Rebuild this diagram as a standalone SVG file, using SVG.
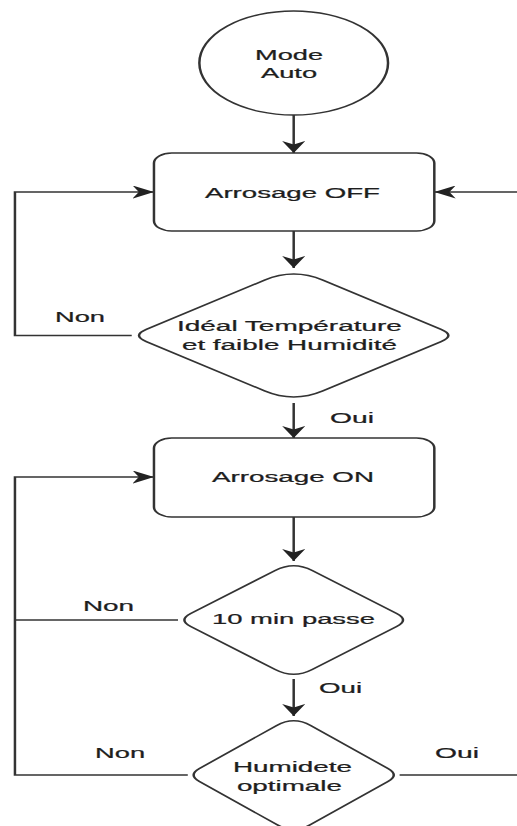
<svg xmlns="http://www.w3.org/2000/svg" width="517" height="826" viewBox="0 0 517 826">
  <defs>
    <style>
      .shape { fill: #ffffff; stroke: #333333; stroke-width: 1.4; }
      .edge { fill: none; stroke: #333333; stroke-width: 1.4; }
      .lbl { font-family: "Liberation Sans", Arial, Helvetica, sans-serif; font-size: 15.5px; fill: #1e1e1e; stroke: #1e1e1e; stroke-width: 0.25; }
      .mid { text-anchor: middle; }
    </style>
    <marker id="arrow" viewBox="0 0 12 13" refX="12" refY="6.5" markerWidth="12" markerHeight="13" markerUnits="userSpaceOnUse" orient="auto">
      <path d="M0 0 L12 6.5 L0 13 L3.5 6.5 Z" fill="#222222"/>
    </marker>
  </defs>
  <rect width="517" height="826" fill="#ffffff"/>

  <!-- the whole flowchart is drawn in a frame stretched horizontally -->
  <g transform="scale(1.78 1)">
    <g id="connectors">
      <path class="edge" d="M165 115 V153" marker-end="url(#arrow)"/>
      <path class="edge" d="M165 231 V268" marker-end="url(#arrow)"/>
      <path class="edge" d="M74 335.5 H8.4 V192 H86.5" marker-end="url(#arrow)"/>
      <path class="edge" d="M165 403 V438" marker-end="url(#arrow)"/>
      <path class="edge" d="M165 517 V561" marker-end="url(#arrow)"/>
      <path class="edge" d="M100 620 H8.4"/>
      <path class="edge" d="M105.5 775 H8.4 V477 H86.5" marker-end="url(#arrow)"/>
      <path class="edge" d="M165 679 V716" marker-end="url(#arrow)"/>
      <path class="edge" d="M224.5 775 H292 V192 H244" marker-end="url(#arrow)"/>
      <text class="lbl" x="30.9" y="322" textLength="28.1" lengthAdjust="spacingAndGlyphs">Non</text>
      <text class="lbl" x="185.4" y="423" textLength="24.7" lengthAdjust="spacingAndGlyphs">Oui</text>
      <text class="lbl" x="46.6" y="611" textLength="28.7" lengthAdjust="spacingAndGlyphs">Non</text>
      <text class="lbl" x="179.2" y="693" textLength="24.2" lengthAdjust="spacingAndGlyphs">Oui</text>
      <text class="lbl" x="53.4" y="758" textLength="28.1" lengthAdjust="spacingAndGlyphs">Non</text>
      <text class="lbl" x="244.4" y="758" textLength="24.7" lengthAdjust="spacingAndGlyphs">Oui</text>
    </g>

    <g id="mode-auto">
      <ellipse class="shape" cx="165" cy="63" rx="53" ry="52"/>
      <text class="lbl mid" x="162.4" y="60" textLength="38.2" lengthAdjust="spacingAndGlyphs">Mode</text>
      <text class="lbl mid" x="162.4" y="78" textLength="31.5" lengthAdjust="spacingAndGlyphs">Auto</text>
    </g>

    <g id="arrosage-off">
      <rect class="shape" x="86.5" y="153" width="157.5" height="78" rx="10" ry="10"/>
      <text class="lbl mid" x="164.3" y="198" textLength="98.3" lengthAdjust="spacingAndGlyphs">Arrosage OFF</text>
    </g>

    <g id="ideal-temperature">
      <path class="shape" d="M148.62 280.15 Q165 268 181.38 280.15 L247.81 329.43 Q256 335.5 247.81 341.58 L181.38 390.85 Q165 403 148.62 390.85 L82.19 341.58 Q74 335.5 82.19 329.43 Z"/>
      <text class="lbl mid" x="162.6" y="331" textLength="126.4" lengthAdjust="spacingAndGlyphs">Idéal Température</text>
      <text class="lbl mid" x="162.6" y="350" textLength="120.8" lengthAdjust="spacingAndGlyphs">et faible Humidité</text>
    </g>

    <g id="arrosage-on">
      <rect class="shape" x="86.5" y="438" width="157.5" height="79" rx="10" ry="10"/>
      <text class="lbl mid" x="164.6" y="482" textLength="91" lengthAdjust="spacingAndGlyphs">Arrosage ON</text>
    </g>

    <g id="dix-min">
      <path class="shape" d="M154.6 570.44 Q165 561 175.4 570.44 L222.85 613.51 Q230 620 222.85 626.49 L175.4 669.56 Q165 679 154.6 669.56 L107.15 626.49 Q100 620 107.15 613.51 Z"/>
      <text class="lbl mid" x="164.9" y="624" textLength="91.6" lengthAdjust="spacingAndGlyphs">10 min passe</text>
    </g>

    <g id="humidite-optimale">
      <path class="shape" d="M155.48 725.44 Q165 716 174.52 725.44 L217.95 768.51 Q224.5 775 217.95 781.49 L174.52 824.56 Q165 834 155.48 824.56 L112.05 781.49 Q105.5 775 112.05 768.51 Z"/>
      <text class="lbl mid" x="164.3" y="772" textLength="66.9" lengthAdjust="spacingAndGlyphs">Humidete</text>
      <text class="lbl mid" x="162.6" y="791" textLength="59" lengthAdjust="spacingAndGlyphs">optimale</text>
    </g>
  </g>
</svg>
